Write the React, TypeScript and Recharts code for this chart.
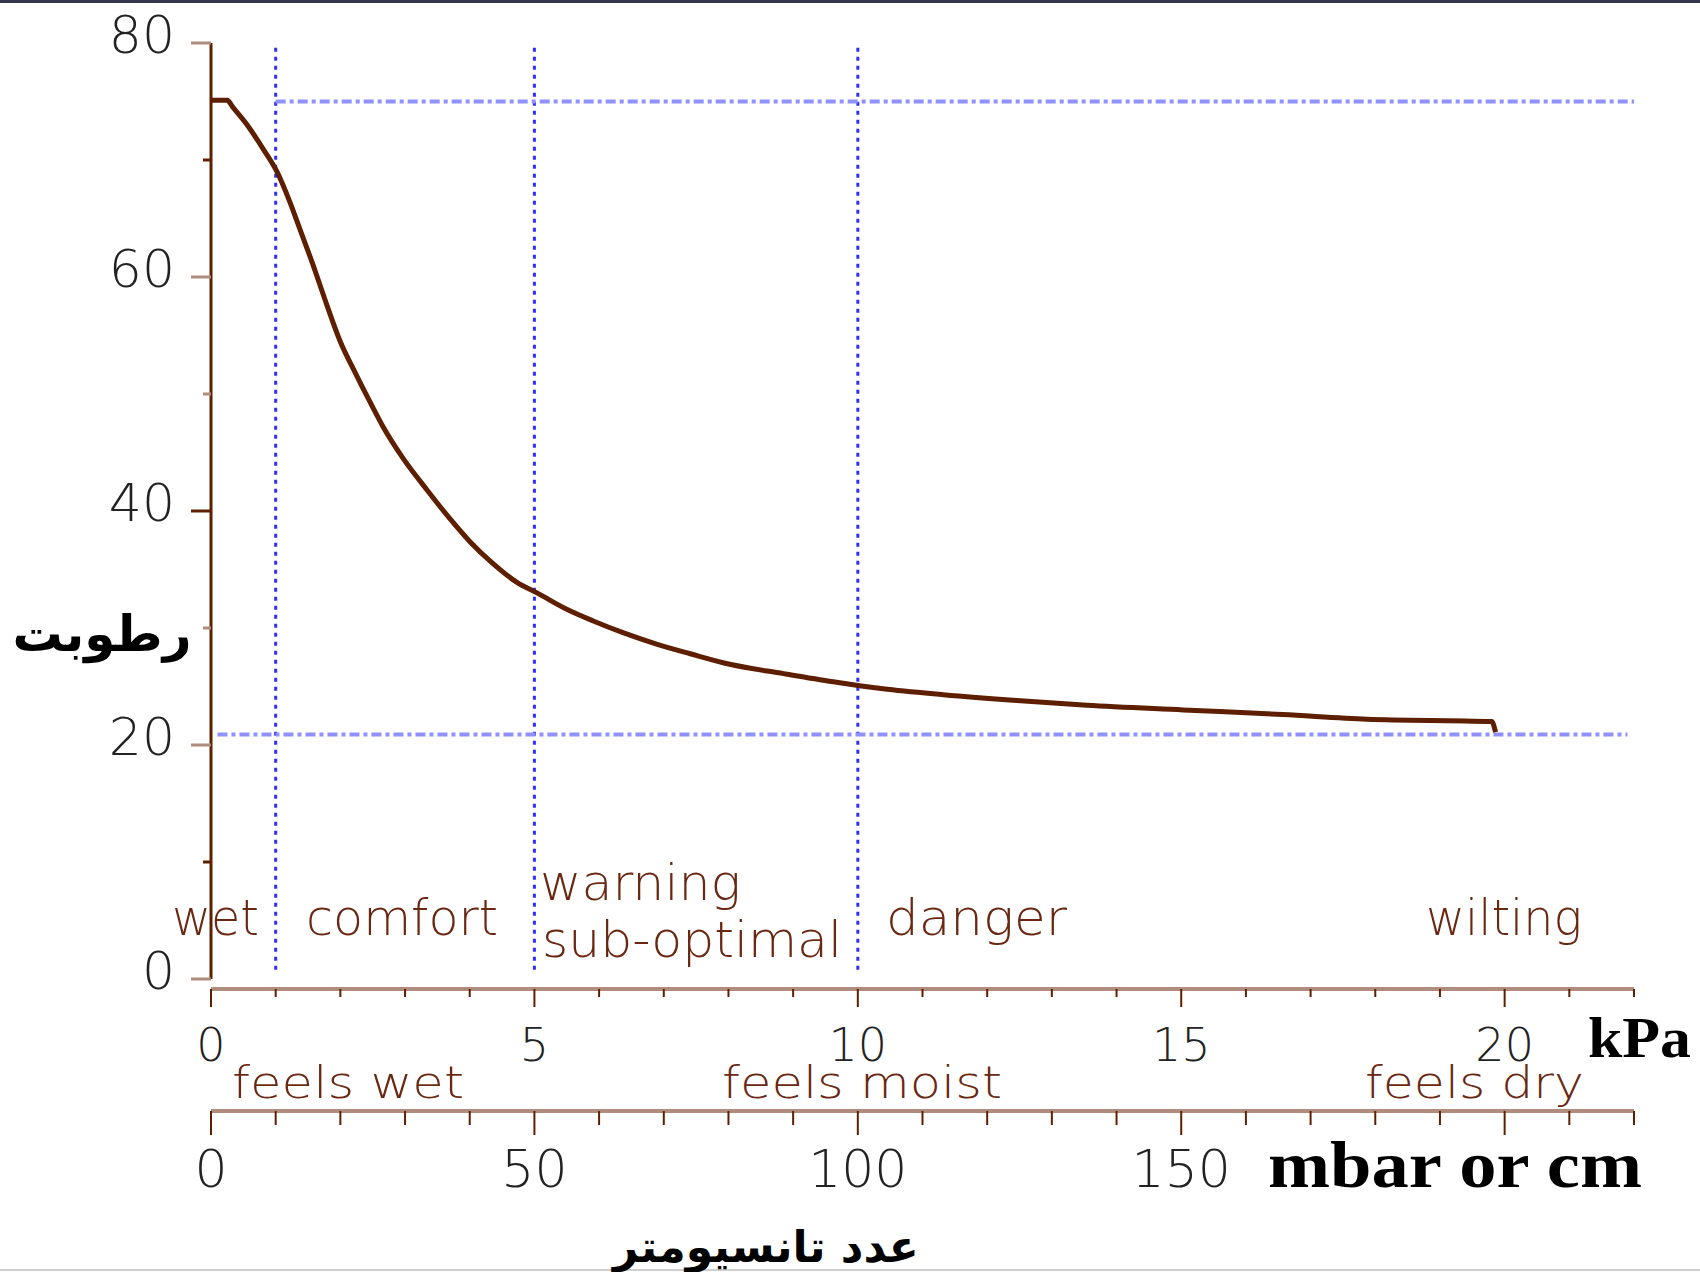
import { LineChart, Line, XAxis, YAxis, ReferenceLine } from "recharts";

// tension (kPa) vs moisture
const tensionKpa = [
  0, 0.25, 0.34, 0.56, 0.8, 1.02, 1.22, 1.38, 1.58, 1.76, 1.99, 2.25, 2.46, 2.66,
  2.97, 3.34, 3.7, 4.0, 4.36, 4.73, 5.04, 5.5, 5.91, 6.37, 6.9, 7.41, 8.02, 8.85,
  9.62, 10.39, 11.32, 12.46, 13.54, 15.03, 16.57, 17.87, 19.8, 19.86,
];
const moisture = [
  75.1, 75.1, 74.5, 73.0, 71.0, 69.0, 66.4, 64.0, 61.0, 58.1, 54.6, 51.6, 49.3, 47.2,
  44.5, 41.8, 39.3, 37.4, 35.5, 33.9, 33.0, 31.6, 30.6, 29.6, 28.6, 27.8, 26.9, 26.1,
  25.4, 24.8, 24.3, 23.8, 23.4, 23.0, 22.6, 22.2, 22.0, 21.1,
];

const kpaTicks = [0, 1, 2, 3, 4, 5, 6, 7, 8, 9, 10, 11, 12, 13, 14, 15, 16, 17, 18, 19, 20, 21, 22];
const kpaLabels = [0, 5, 10, 15, 20];
const mbarTicks = [0, 10, 20, 30, 40, 50, 60, 70, 80, 90, 100, 110, 120, 130, 140, 150, 160, 170, 180, 190, 200, 210, 220];
const mbarLabels = [0, 50, 100, 150];
const moistureTicks = [0, 10, 20, 30, 40, 50, 60, 70, 80];
const moistureLabels = [0, 20, 40, 60, 80];
const darkMoistureTicks = [10, 40, 70];

// zone boundaries (kPa) and the field-capacity / wilting levels
const zoneBounds = [1, 5, 10];
const upperLevel = 75;
const lowerLevel = 20.9;

const rows = tensionKpa.map((k, i) => ({ kpa: k, moisture: moisture[i] }));

const BROWN = "#5e1f00";
const LIGHT_BROWN = "#b08c7c";
const NUM_FONT = "DejaVu Sans";

function KpaTick(props: any) {
  const { x, y, payload } = props;
  const v = payload.value;
  const major = v % 5 === 0;
  return (
    <g>
      <line x1={x} x2={x} y1={y} y2={y + (major ? 18 : 8)} stroke={BROWN} strokeWidth={2} />
      {kpaLabels.includes(v) && (
        <text x={x} y={y + 72} textAnchor="middle" fontFamily={NUM_FONT} fontWeight={200} fontSize={46} fill="#222">
          {v}
        </text>
      )}
    </g>
  );
}

function MbarTick(props: any) {
  const { x, y, payload } = props;
  const v = payload.value;
  const major = v % 50 === 0;
  return (
    <g>
      <line x1={x} x2={x} y1={y} y2={y + (major ? 24 : 14)} stroke={BROWN} strokeWidth={2} />
      {mbarLabels.includes(v) && (
        <text x={x} y={y + 76} textAnchor="middle" fontFamily={NUM_FONT} fontWeight={200} fontSize={52} fill="#222">
          {v}
        </text>
      )}
    </g>
  );
}

function MoistureTick(props: any) {
  const { x, y, payload } = props;
  const v = payload.value;
  const major = v % 20 === 0;
  return (
    <g>
      <line
        x1={x - (major ? 20 : 8)}
        x2={x}
        y1={y}
        y2={y}
        stroke={darkMoistureTicks.includes(v) ? BROWN : LIGHT_BROWN}
        strokeWidth={3}
      />
      {moistureLabels.includes(v) && (
        <text x={x - 36} y={y + 10} textAnchor="end" fontFamily={NUM_FONT} fontWeight={200} fontSize={52} fill="#222">
          {v}
        </text>
      )}
    </g>
  );
}

const zoneText = { fontFamily: "DejaVu Sans", fontWeight: 200, fill: "#6a2812", lengthAdjust: "spacingAndGlyphs" } as const;

export default function App() {
  return (
    <div style={{ position: "relative", width: 1700, height: 1272, background: "#fff" }}>
      <style>{"body{margin:0}"}</style>
      <LineChart width={1700} height={1272} data={rows} margin={{ top: 43, right: 66, bottom: 61, left: 0 }}>
        <XAxis
          xAxisId="kpa"
          dataKey="kpa"
          type="number"
          domain={[0, 22]}
          ticks={kpaTicks}
          interval={0}
          tickSize={0}
          tickMargin={0}
          tickLine={false}
          axisLine={{ stroke: LIGHT_BROWN, strokeWidth: 4 }}
          tick={KpaTick}
          height={122}
          allowDataOverflow
        />
        {/* same scale in mbar (1 kPa = 10 mbar) */}
        <XAxis
          xAxisId="mbar"
          dataKey={(d: any) => d.kpa * 10}
          type="number"
          domain={[0, 220]}
          ticks={mbarTicks}
          interval={0}
          tickSize={0}
          tickMargin={0}
          tickLine={false}
          axisLine={{ stroke: LIGHT_BROWN, strokeWidth: 4 }}
          tick={MbarTick}
          height={100}
          allowDataOverflow
        />
        <YAxis
          type="number"
          domain={[-0.855, 80]}
          ticks={moistureTicks}
          interval={0}
          width={211}
          tickSize={0}
          tickMargin={0}
          tickLine={false}
          axisLine={false}
          tick={MoistureTick}
          allowDataOverflow
        />
        <ReferenceLine
          xAxisId="kpa"
          segment={[{ x: 0, y: 0 }, { x: 0, y: 80 }]}
          stroke={BROWN}
          strokeWidth={3}
        />
        {zoneBounds.map((b) => (
          <ReferenceLine
            key={b}
            xAxisId="kpa"
            segment={[{ x: b, y: 0.8 }, { x: b, y: 80 }]}
            stroke="#2f2fff"
            strokeWidth={3}
            strokeDasharray="4 5"
          />
        ))}
        <ReferenceLine
          xAxisId="kpa"
          segment={[{ x: 1, y: upperLevel }, { x: 22, y: upperLevel }]}
          stroke="#9090ff"
          strokeWidth={4}
          strokeDasharray="10 4 4 4"
        />
        <ReferenceLine
          xAxisId="kpa"
          segment={[{ x: 0.1, y: lowerLevel }, { x: 21.9, y: lowerLevel }]}
          stroke="#9090ff"
          strokeWidth={4}
          strokeDasharray="10 4 4 4"
        />
        <Line
          xAxisId="kpa"
          type="monotone"
          dataKey="moisture"
          stroke={BROWN}
          strokeWidth={5}
          dot={false}
          isAnimationActive={false}
        />
      </LineChart>

      <svg width={1700} height={1272} style={{ position: "absolute", left: 0, top: 0, pointerEvents: "none" }}>
        <rect x={0} y={0} width={1700} height={3} fill="#34344a" />
        <rect x={0} y={1269} width={1700} height={2} fill="#cfcfcf" />

        <text x={172} y={935} fontSize={50} textLength={87} {...zoneText}>wet</text>
        <text x={306} y={935} fontSize={50} textLength={192} {...zoneText}>comfort</text>
        <text x={540} y={900} fontSize={50} textLength={201} {...zoneText}>warning</text>
        <text x={542} y={957} fontSize={50} textLength={300} {...zoneText}>sub-optimal</text>
        <text x={886} y={935} fontSize={50} textLength={181} {...zoneText}>danger</text>
        <text x={1426} y={935} fontSize={50} textLength={156} {...zoneText}>wilting</text>

        <text x={232} y={1098} fontSize={45} textLength={232} {...zoneText}>feels wet</text>
        <text x={722} y={1098} fontSize={45} textLength={280} {...zoneText}>feels moist</text>
        <text x={1365} y={1098} fontSize={45} textLength={219} {...zoneText}>feels dry</text>

        <text x={1588} y={1057} fontFamily="Liberation Serif" fontWeight={700} fontSize={58} textLength={103} lengthAdjust="spacingAndGlyphs" fill="#000">
          kPa
        </text>
        <text x={1268} y={1187} fontFamily="Liberation Serif" fontWeight={700} fontSize={66} textLength={374} lengthAdjust="spacingAndGlyphs" fill="#000">
          mbar or cm
        </text>

        <text x={102} y={651} textAnchor="middle" fontFamily="DejaVu Sans" fontWeight={700} fontSize={50} fill="#000">
          رطوبت
        </text>
        <text x={766} y={1262} textAnchor="middle" fontFamily="DejaVu Sans" fontWeight={700} fontSize={44} fill="#000">
          عدد تانسیومتر
        </text>
      </svg>
    </div>
  );
}
